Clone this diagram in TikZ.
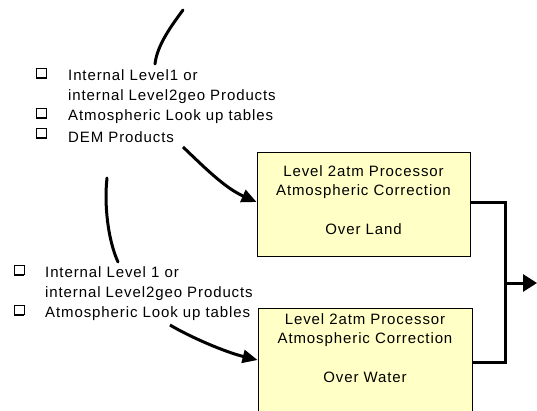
\documentclass[tikz,border=0pt]{standalone}
\usepackage{fontspec}
\usetikzlibrary{arrows.meta}
\newfontfamily\labfont[LetterSpace=6]{Liberation Sans}
\definecolor{boxfill}{HTML}{FFFFC6}
\tikzset{
  lab/.style={font=\labfont\fontsize{15}{20}\selectfont, inner sep=0pt, anchor=west, align=left},
  boxtxt/.style={font=\labfont\fontsize{15}{19.5}\selectfont, inner sep=0pt, align=center},
  procbox/.style={draw=black, line width=0.9pt, fill=boxfill, minimum width=#1, inner sep=0pt},
  bul/.style={draw=black, line width=0.9pt, minimum width=10pt, minimum height=9pt, inner sep=0pt},
  flow/.style={line width=3pt, line cap=round},
  flowarrow/.style={line width=3pt, -{Triangle[length=15pt,width=13pt]}},
}
\begin{document}
\begin{tikzpicture}[x=1pt,y=-1pt]
\useasboundingbox (0,0) rectangle (537,411);
\clip (0,0) rectangle (537,411);
% boxes
\node[procbox=213pt, minimum height=104pt] (land) at (363.5,204) {};
\node[procbox=214pt, minimum height=130pt] (water) at (365,373) {};
\node[boxtxt, anchor=north] (landtxt) at (363.5,165) {Level 2atm Processor\\Atmospheric Correction\\[19.5pt]Over Land};
\node[boxtxt, anchor=north] (watertxt) at (365,313) {Level 2atm Processor\\Atmospheric Correction\\[19.5pt]Over Water};
% list 1
\node[bul] (b1) at (41.5,73) {};
\node[bul] (b2) at (41.5,113) {};
\node[bul] (b3) at (41.5,133) {};
\foreach \b in {b1,b2,b3} \draw[line width=1.8pt] (\b.south west) -- (\b.south east);
\node[lab] (t1) at (68,87) {Internal Level1 or\\internal Level2geo Products};
\node[lab] (t2) at (68,117) {Atmospheric Look up tables};
\node[lab] (t3) at (68,137) {DEM Products};
% list 2
\node[bul] (c1) at (19,270) {};
\node[bul] (c2) at (19,310) {};
\foreach \b in {c1,c2} \draw[line width=1.8pt] (\b.south west) -- (\b.south east);
\node[lab] (u1) at (45,283.5) {Internal Level 1 or\\internal Level2geo Products};
\node[lab] (u2) at (45,314) {Atmospheric Look up tables};
% curves
\coordinate (c1s) at (183,10);
\coordinate (c1e) at (155,64);
\draw[flow] (c1s) .. controls (172,25) and (157,45) .. (c1e);
\coordinate (c2s) at (183,147);
\draw[flowarrow] (c2s) .. controls (205,168) and (225,188) .. (land.west |- 0,202);
\coordinate (c3s) at (107,178);
\coordinate (c3e) at (118,262);
\draw[flow] (c3s) .. controls (104,205) and (108,240) .. (c3e);
\coordinate (c4s) at (170,325);
\draw[flowarrow] (c4s) .. controls (190,337) and (225,352) .. (water.west |- 0,360);
% output connector
\coordinate (j1) at (505,203);
\coordinate (j2) at (505,362);
\coordinate (jm) at (505,283);
\coordinate (out) at (537,283);
\draw[line width=3pt] (land.east |- j1) -- (j1) -- (j2) -- (water.east |- j2);
\draw[line width=3pt, -{Triangle[length=14pt,width=17pt]}] (jm) -- (out);
\end{tikzpicture}
\end{document}
